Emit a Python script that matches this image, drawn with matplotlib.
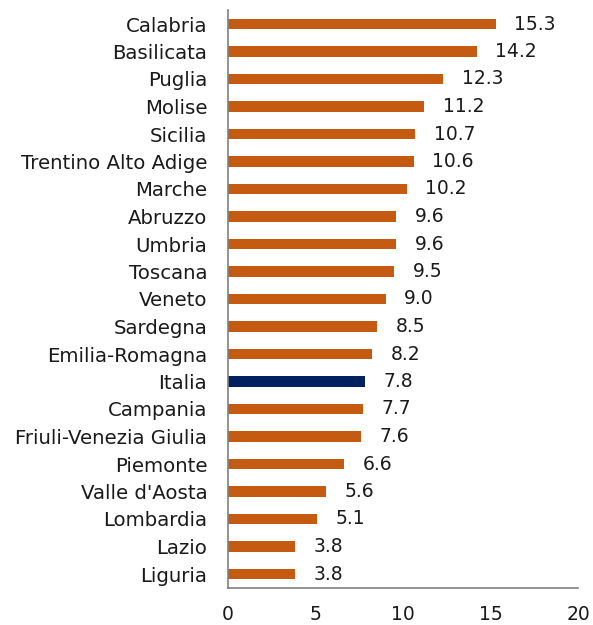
import matplotlib
matplotlib.use("Agg")
import matplotlib.pyplot as plt

regions = ["Calabria", "Basilicata", "Puglia", "Molise", "Sicilia", "Trentino Alto Adige",
           "Marche", "Abruzzo", "Umbria", "Toscana", "Veneto", "Sardegna", "Emilia-Romagna",
           "Italia", "Campania", "Friuli-Venezia Giulia", "Piemonte", "Valle d'Aosta",
           "Lombardia", "Lazio", "Liguria"]
values = [15.3, 14.2, 12.3, 11.2, 10.7, 10.6, 10.2, 9.6, 9.6, 9.5, 9.0, 8.5, 8.2,
          7.8, 7.7, 7.6, 6.6, 5.6, 5.1, 3.8, 3.8]
xticks = [0, 5, 10, 15, 20]

plt.rcParams['font.family'] = ['DejaVu Sans']

fig = plt.figure(figsize=(5.93, 6.25), dpi=100)
ax = fig.add_axes([228/593, 1-587.75/625, 350/593, (587.75-10.25)/625])

fs = 13.5
n = len(regions)
ypos = list(range(n))[::-1]
colors = ['#002060' if r == 'Italia' else '#C55A11' for r in regions]
ax.barh(ypos, values, height=0.38, color=colors)
for y, v in zip(ypos, values):
    ax.annotate(f"{v:.1f}", xy=(v, y), xytext=(13.5, 0), textcoords='offset points',
                va='center', ha='left', fontsize=fs, color='#1a1a1a')

ax.set_yticks(ypos)
ax.set_yticklabels(regions, fontsize=14.2, color='#1a1a1a')
ax.set_xticks(xticks)
ax.set_xticklabels([str(t) for t in xticks], fontsize=fs, color='#1a1a1a')
ax.set_xlim(0, 20)
ax.set_ylim(-0.5, n - 0.5)
ax.tick_params(axis='both', length=0)
ax.tick_params(axis='x', pad=12.5)
ax.tick_params(axis='y', pad=15)
for s in ['top', 'right']:
    ax.spines[s].set_visible(False)
for s in ['left', 'bottom']:
    ax.spines[s].set_color('#808080')
    ax.spines[s].set_linewidth(1.2)

fig.savefig("out.png", dpi=100)
